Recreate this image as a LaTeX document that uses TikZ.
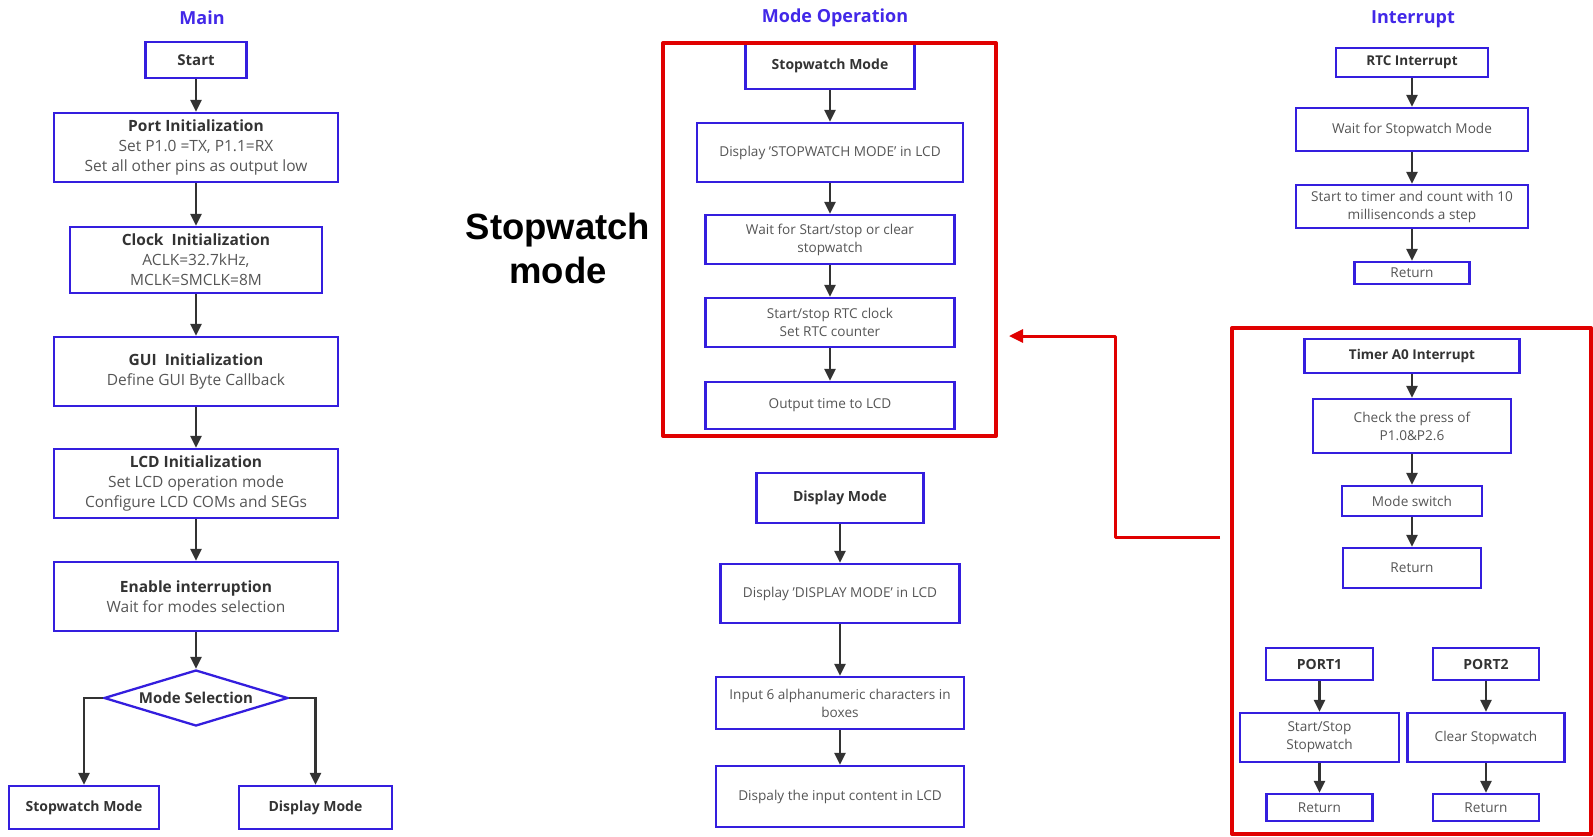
\documentclass[tikz,border=0pt]{standalone}
\usepackage{fontspec}
\setmainfont{Open Sans}
\newfontfamily\arialfont{Liberation Sans}
\usetikzlibrary{shapes.geometric,arrows.meta}
\definecolor{boxblue}{RGB}{52,30,222}
\definecolor{titleblue}{RGB}{66,40,232}
\definecolor{headgray}{RGB}{51,51,51}
\definecolor{txtgray}{RGB}{85,85,85}
\definecolor{arrowgray}{RGB}{51,51,51}
\definecolor{framered}{RGB}{224,0,0}
\tikzset{
	blk/.style={draw=boxblue, line width=2.3pt, align=center, text=txtgray, inner sep=1pt, font=\fontsize{13.6}{18}\selectfont},
	bigblk/.style={blk, font=\fontsize{15.5}{20}\selectfont},
	headblk/.style={blk, text=headgray, font=\fontsize{14}{18}\selectfont\bfseries},
	sz/.style 2 args={minimum width=#1pt, minimum height=#2pt},
	coltitle/.style={text=titleblue, font=\fontsize{18}{22}\selectfont\bfseries},
	flow/.style={draw=arrowgray, line width=2.4pt, -{Triangle[length=12pt,width=11pt]}},
	redframe/.style={draw=framered, line width=4pt, line join=round},
	jump/.style={draw=framered, line width=3pt, line join=round, -{Triangle[length=14pt,width=13pt]}}
}
\newcommand{\hd}[1]{{\bfseries\color{headgray}#1}}

\begin{document}
\begin{tikzpicture}[x=1pt,y=-1pt]
	\useasboundingbox (0,0) rectangle (1593,836);
	\node[coltitle] (tmain) at (202,17.5) {Main};
	\node[coltitle] (tmode) at (835,17.5) {Mode Operation};
	\node[coltitle] (tint) at (1413,19.5) {Interrupt};

	\node[headblk,sz={101}{36},font=\fontsize{15}{20}\selectfont\bfseries] (start) at (196,60) {Start};
	\node[bigblk,sz={284}{69}] (port) at (196,147.5) {\hd{Port Initialization}\\Set P1.0 =TX, P1.1=RX\\Set all other pins as output low};
	\node[bigblk,sz={252}{66}] (clock) at (196,260) {\hd{Clock\ \ Initialization}\\ACLK=32.7kHz,\\MCLK=SMCLK=8M};
	\node[bigblk,sz={284}{69}] (gui) at (196,371.5) {\hd{GUI\ \ Initialization}\\Define GUI Byte Callback};
	\node[bigblk,sz={284}{69}] (lcd) at (196,483.5) {\hd{LCD Initialization}\\Set LCD operation mode\\Configure LCD COMs and SEGs};
	\node[bigblk,sz={284}{69}] (enable) at (196,596.5) {\hd{Enable interruption}\\Wait for modes selection};
	\node[headblk,shape=diamond,aspect=3.3,sz={184}{56},inner sep=0pt,font=\fontsize{15}{20}\selectfont\bfseries] (sel) at (196,698) {Mode Selection};
	\node[headblk,sz={150}{43}] (swm) at (84,807.5) {Stopwatch Mode};
	\node[headblk,sz={153}{43}] (dpm) at (315.5,807.5) {Display Mode};
	\draw[flow] (start) -- (port);
	\draw[flow] (port) -- (clock);
	\draw[flow] (clock) -- (gui);
	\draw[flow] (gui) -- (lcd);
	\draw[flow] (lcd) -- (enable);
	\draw[flow] (enable) -- (sel);
	\draw[flow] (sel.west) -| (swm.north);
	\draw[flow] (sel.east) -| (dpm.north);

	\node[font=\arialfont\bfseries\fontsize{36.5}{44}\selectfont,align=center,inner sep=0pt] (swlabel) at (558,248) {Stopwatch\\mode};

	\node[headblk,sz={169}{47}] (swhead) at (830,65.5) {Stopwatch Mode};
	\node[blk,sz={266}{59}] (swdisp) at (830,152.5) {Display 'STOPWATCH MODE' in LCD};
	\node[blk,sz={249}{49}] (swwait) at (830,239.5) {Wait for Start/stop or clear\\stopwatch};
	\node[blk,sz={249}{49}] (swrtc) at (830,322.5) {Start/stop RTC clock\\Set RTC counter};
	\node[blk,sz={249}{47}] (swout) at (830,405.5) {Output time to LCD};
	\draw[flow] (swhead) -- (swdisp);
	\draw[flow] (swdisp) -- (swwait);
	\draw[flow] (swwait) -- (swrtc);
	\draw[flow] (swrtc) -- (swout);
	\draw[redframe] (663,43) rectangle (996,436);

	\node[headblk,sz={167}{50}] (dphead) at (840,498) {Display Mode};
	\node[blk,sz={239}{59}] (dpdisp) at (840,593.5) {Display 'DISPLAY MODE' in LCD};
	\node[blk,sz={248}{52}] (dpinput) at (840,703) {Input 6 alphanumeric characters in\\boxes};
	\node[blk,sz={248}{61}] (dpshow) at (840,796.5) {Dispaly the input content in LCD};
	\draw[flow] (dphead) -- (dpdisp);
	\draw[flow] (dpdisp) -- (dpinput);
	\draw[flow] (dpinput) -- (dpshow);

	\node[headblk,sz={152}{29},font=\fontsize{13.5}{18}\selectfont\bfseries] (rtc) at (1412,62.5) {RTC Interrupt};
	\node[blk,sz={232}{43}] (rtcwait) at (1412,129.5) {Wait for Stopwatch Mode};
	\node[blk,sz={232}{43}] (rtcstart) at (1412,206.5) {Start to timer and count with 10\\millisenconds a step};
	\node[blk,sz={115}{22}] (rtcret) at (1412,273) {Return};
	\draw[flow] (rtc) -- (rtcwait);
	\draw[flow] (rtcwait) -- (rtcstart);
	\draw[flow] (rtcstart) -- (rtcret);

	\node[headblk,sz={215}{34},font=\fontsize{13.5}{18}\selectfont\bfseries] (ta0) at (1412,356) {Timer A0 Interrupt};
	\node[blk,sz={198}{54}] (check) at (1412,426) {Check the press of\\P1.0\&P2.6};
	\node[blk,sz={140}{30}] (mswitch) at (1412,501) {Mode switch};
	\node[blk,sz={138}{40}] (taret) at (1412,568) {Return};
	\draw[flow] (ta0) -- (check);
	\draw[flow] (check) -- (mswitch);
	\draw[flow] (mswitch) -- (taret);

	\node[headblk,sz={107}{32}] (port1) at (1319.5,664) {PORT1};
	\node[headblk,sz={106}{32}] (port2) at (1486,664) {PORT2};
	\node[blk,sz={159}{49}] (p1act) at (1319.5,737.5) {Start/Stop\\Stopwatch};
	\node[blk,sz={157}{49}] (p2act) at (1486,737.5) {Clear Stopwatch};
	\node[blk,sz={106}{27}] (p1ret) at (1319.5,807.5) {Return};
	\node[blk,sz={106}{27}] (p2ret) at (1486,807.5) {Return};
	\draw[flow] (port1) -- (p1act);
	\draw[flow] (p1act) -- (p1ret);
	\draw[flow] (port2) -- (p2act);
	\draw[flow] (p2act) -- (p2ret);
	\draw[redframe] (1232,328) rectangle (1591,834);

	\coordinate (jfrom) at (1220,537);
	\coordinate (jto) at (1009,336);
	\draw[jump] (jfrom) -- ++(-105,0) |- (jto);
\end{tikzpicture}
\end{document}
